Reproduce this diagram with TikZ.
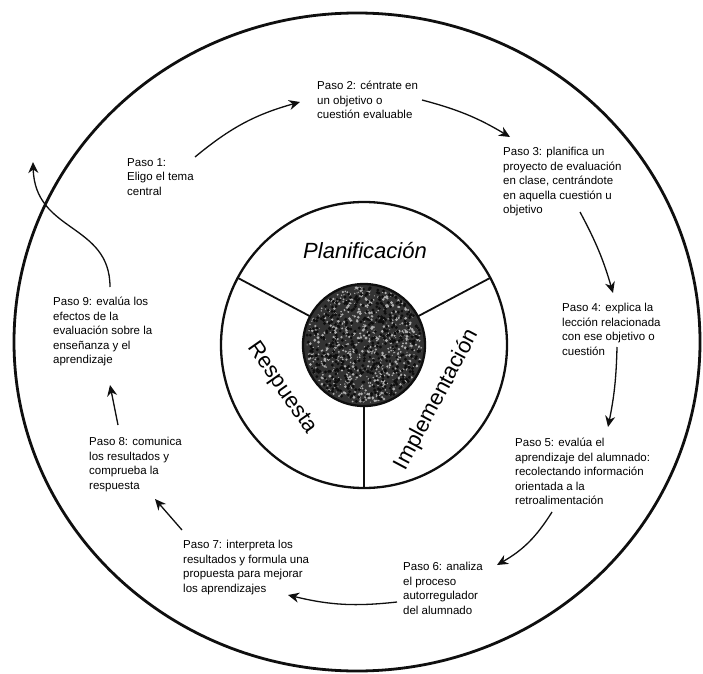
\documentclass[tikz,border=0pt]{standalone}
\usepackage{fontspec}
\newfontfamily\stepfont{Liberation Sans}
\usetikzlibrary{arrows.meta, calc}
\definecolor{ringInk}{RGB}{15, 15, 15}
\definecolor{coreSpeck}{RGB}{175, 175, 175}
\tikzset{
  OuterRing/.style  = {draw=ringInk, line width=2.8pt},
  MidRing/.style    = {draw=ringInk, line width=2.3pt},
  Divider/.style    = {draw=ringInk, line width=1.8pt},
  StepText/.style   = {anchor=north west, align=left, inner sep=0pt,
                       font=\stepfont\fontsize{11.5}{14.5}\selectfont},
  StepArrow/.style  = {draw=ringInk, line width=1.3pt,
                       -{Stealth[length=11pt, width=10pt, inset=3.5pt]}},
  PhaseLabel/.style = {inner sep=0pt, font=\stepfont\fontsize{22}{24}\selectfont},
}

\begin{document}
\begin{tikzpicture}[x=1pt, y=1pt]
    \useasboundingbox (0,0) rectangle (703,673);
    % rings
    \draw[OuterRing] (357,331) ellipse (343 and 329);
    \coordinate (core) at (364,328);
    \draw[MidRing] (core) circle (143);
    \foreach \a in {28,152,270}
      \draw[Divider] ($(core)+(\a:61)$) -- ($(core)+(\a:143)$);
    % speckled core
    \fill[black!80] (core) circle (61);
    \pgfmathsetseed{12}
    \foreach \k in {1,...,700} {
      \pgfmathsetmacro{\ang}{360*rnd}
      \pgfmathsetmacro{\rad}{58*sqrt(rnd)}
      \pgfmathsetmacro{\dot}{0.5+1.1*rnd}
      \fill[coreSpeck] ($(core)+(\ang:\rad)$) circle (\dot);
    }
    \foreach \k in {1,...,500} {
      \pgfmathsetmacro{\ang}{360*rnd}
      \pgfmathsetmacro{\rad}{58*sqrt(rnd)}
      \fill[ringInk] ($(core)+(\ang:\rad)$) circle (1.6);
    }
    \draw[MidRing] (core) circle (61);
    % phases
    \node[PhaseLabel, font=\stepfont\itshape\fontsize{22}{24}\selectfont] (plan) at (365,422) {Planificación};
    \node[PhaseLabel, rotate=62] (impl) at (437,273) {Implementación};
    \node[PhaseLabel, rotate=-55] (resp) at (282,285) {Respuesta};
    % steps
    \node[StepText] (s1) at (127,515) {Paso 1:\\Eligo el tema\\central};
    \node[StepText] (s2) at (317,592) {Paso 2: céntrate en\\un objetivo o\\cuestión evaluable};
    \node[StepText] (s3) at (503,526) {Paso 3: planifica un\\proyecto de evaluación\\en clase, centrándote\\en aquella cuestión u\\objetivo};
    \node[StepText] (s4) at (562,370) {Paso 4: explica la\\lección relacionada\\con ese objetivo o\\cuestión};
    \node[StepText] (s5) at (515,235) {Paso 5: evalúa el\\aprendizaje del alumnado:\\recolectando información\\orientada a la\\retroalimentación};
    \node[StepText] (s6) at (403,111) {Paso 6: analiza\\el proceso\\autorregulador\\del alumnado};
    \node[StepText] (s7) at (183,133) {Paso 7: interpreta los\\resultados y formula una\\propuesta para mejorar\\los aprendizajes};
    \node[StepText] (s8) at (89,236) {Paso 8: comunica\\los resultados y\\comprueba la\\respuesta};
    \node[StepText] (s9) at (53,376) {Paso 9: evalúa los\\efectos de la\\evaluación sobre la\\enseñanza y el\\aprendizaje};
    \coordinate (exit) at (33,511);
    % cycle
    \draw[StepArrow] ([shift={(68,1)}]s1.north west) to[bend left=12] ([shift={(-17,-21)}]s2.north west);
    \draw[StepArrow] ([shift={(105,-19)}]s2.north west) to[bend left=8] ([shift={(7,10)}]s3.north west);
    \draw[StepArrow] ([shift={(77,-65)}]s3.north west) to[bend left=6] ([shift={(51,10)}]s4.north west);
    \draw[StepArrow] ([shift={(55,-44)}]s4.north west) to[bend left=5] ([shift={(93,11)}]s5.north west);
    \draw[StepArrow] ([shift={(37,-74)}]s5.north west) to[bend left=14] ([shift={(94,-3)}]s6.north west);
    \draw[StepArrow] ([shift={(-6,-40)}]s6.north west) to[bend left=10] ([shift={(105,-55)}]s7.north west);
    \draw[StepArrow] ([shift={(-1,10)}]s7.north west) -- ([shift={(66,-62)}]s8.north west);
    \draw[StepArrow] ([shift={(29,12)}]s8.north west) -- ([shift={(57,-88)}]s9.north west);
    \draw[StepArrow] ([shift={(57,10)}]s9.north west) .. controls (110,450) and (35,440) .. (exit);
  \end{tikzpicture}
\end{document}
